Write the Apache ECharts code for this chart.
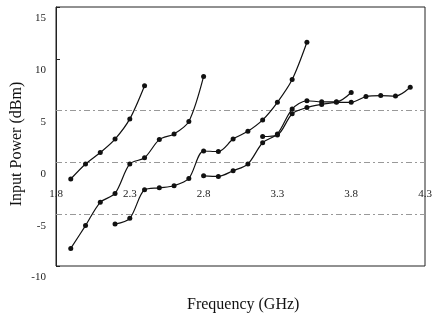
<!DOCTYPE html>
<html>
<head>
<meta charset="utf-8">
<script src="https://cdn.jsdelivr.net/npm/echarts@6/dist/echarts.min.js"></script>
<style>html,body{margin:0;padding:0;background:#fff}#c{width:435px;height:323px}</style>
</head>
<body>
<div id="c"></div>
<script>
// Frequency (GHz) and input power (dBm) for each curve
const freqA = [1.9, 2.0, 2.1, 2.2, 2.3, 2.4];
const powA  = [-1.6, -0.15, 0.95, 2.25, 4.2, 7.4];

const freqB = [1.9, 2.0, 2.1, 2.2, 2.3, 2.4, 2.5, 2.6, 2.7, 2.8];
const powB  = [-8.3, -6.1, -3.85, -3.0, -0.15, 0.45, 2.2, 2.75, 3.95, 8.3];

const freqC = [2.2, 2.3, 2.4, 2.5, 2.6, 2.7, 2.8, 2.9, 3.0, 3.1, 3.2, 3.3, 3.4, 3.5];
const powC  = [-5.95, -5.4, -2.65, -2.45, -2.25, -1.55, 1.1, 1.05, 2.25, 3.0, 4.1, 5.8, 8.0, 11.6];

const freqD = [2.8, 2.9, 3.0, 3.1, 3.2, 3.3, 3.4, 3.5, 3.6, 3.7, 3.8];
const powD  = [-1.3, -1.35, -0.8, -0.15, 1.9, 2.75, 5.15, 5.95, 5.85, 5.85, 6.75];

const freqE = [3.2, 3.3, 3.4, 3.5, 3.6, 3.7, 3.8, 3.9, 4.0, 4.1, 4.2];
const powE  = [2.5, 2.65, 4.7, 5.3, 5.6, 5.8, 5.8, 6.35, 6.45, 6.4, 7.25];

const xTicks = [1.8, 2.3, 2.8, 3.3, 3.8, 4.3];
const yTicks = [-10, -5, 0, 5, 10, 15];
const gridValues = [5, 0, -5];

const curves = [[freqA, powA], [freqB, powB], [freqC, powC], [freqD, powD], [freqE, powE]];

const font = '"Liberation Serif", "DejaVu Serif", serif';

const series = curves.map(([f, p]) => ({
  type: 'line',
  data: f.map((x, k) => [x, p[k]]),
  smooth: 0.3,
  symbol: 'circle',
  symbolSize: 5,
  lineStyle: { color: '#111', width: 1.2 },
  itemStyle: { color: '#111' },
  z: 5
}));

series.push({
  type: 'line',
  data: [],
  silent: true,
  markLine: {
    symbol: 'none',
    silent: true,
    label: { show: false },
    lineStyle: { color: '#999', type: [6, 3, 2, 3], width: 1 },
    data: gridValues.map(v => ({ yAxis: v }))
  }
});

const chart = echarts.init(document.getElementById('c'), null, { renderer: 'canvas' });
chart.setOption({
  animation: false,
  backgroundColor: '#fff',
  grid: { left: 56, right: 10, top: 7, bottom: 57, show: true, borderColor: '#222', borderWidth: 1, backgroundColor: 'transparent' },
  xAxis: {
    type: 'value', min: 1.8, max: 4.3,
    offset: -104,
    axisLine: { onZero: false, show: false },
    axisTick: { show: false },
    splitLine: { show: false },
    axisLabel: {
      customValues: xTicks,
      formatter: v => v.toFixed(1),
      margin: 27,
      color: '#222', fontFamily: font, fontSize: 11
    }
  },
  yAxis: {
    type: 'value', min: -10, max: 15, interval: 5,
    axisLine: { show: true, onZero: false, lineStyle: { color: '#222', width: 1 } },
    axisTick: { show: true, inside: true, length: 4, lineStyle: { color: '#222' } },
    splitLine: { show: false },
    axisLabel: {
      customValues: yTicks,
      verticalAlign: 'top', padding: [6, 0, 0, 0],
      margin: 10, color: '#222', fontFamily: font, fontSize: 11
    }
  },
  graphic: [{
    type: 'text', left: 187, top: 297,
    style: { text: 'Frequency (GHz)', font: '16px ' + font, fill: '#111' }
  }, {
    type: 'text', x: 17, y: 144, rotation: Math.PI / 2,
    style: { text: 'Input Power (dBm)', font: '16px ' + font, fill: '#111', align: 'center', verticalAlign: 'middle' }
  }],
  series: series
});
</script>
</body>
</html>
